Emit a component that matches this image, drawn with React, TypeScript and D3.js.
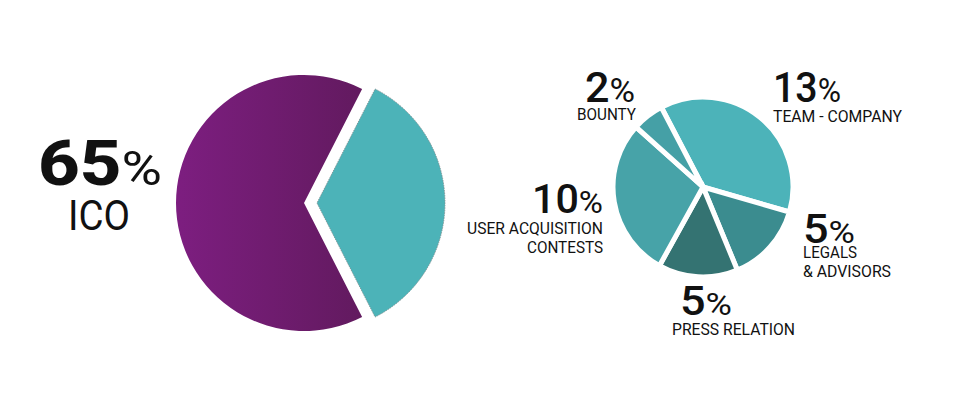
import React from "react";
import * as d3 from "d3";

const mainCategories = ["ICO", "Other"];
const mainValues = [65, 35];
const subCategories = ["TEAM - COMPANY", "LEGALS & ADVISORS", "PRESS RELATION", "USER ACQUISITION CONTESTS", "BOUNTY"];
const subValues = [13, 5, 5, 10, 2];
const subColors = ["#4cb3b9", "#3b8c8f", "#347372", "#47a3a8", "#45a0a6"];

type Lbl = {
  num: string; nx: number; w: number; by: number; ns: number; ps: number; nwt: number;
  lines: { t: string; x: number; y: number; w: number; s: number }[];
};

const labels: Lbl[] = [
  { num: "65", nx: 38, w: 124, by: 185, ns: 63, ps: 48, nwt: 800,
    lines: [{ t: "ICO", x: 68, y: 230, w: 62, s: 42 }] },
  { num: "13", nx: 773, w: 68, by: 102, ns: 42, ps: 34, nwt: 500,
    lines: [{ t: "TEAM - COMPANY", x: 773, y: 122, w: 129, s: 16 }] },
  { num: "2", nx: 585, w: 50, by: 102, ns: 42, ps: 34, nwt: 500,
    lines: [{ t: "BOUNTY", x: 577, y: 120, w: 59, s: 16 }] },
  { num: "10", nx: 532, w: 71, by: 213, ns: 40, ps: 32, nwt: 500,
    lines: [
      { t: "USER ACQUISITION", x: 467, y: 234, w: 136, s: 16 },
      { t: "CONTESTS", x: 527, y: 253, w: 76, s: 16 },
    ] },
  { num: "5", nx: 803, w: 52, by: 243, ns: 40, ps: 32, nwt: 500,
    lines: [
      { t: "LEGALS", x: 803, y: 258, w: 54, s: 16 },
      { t: "& ADVISORS", x: 803, y: 277, w: 88, s: 16 },
    ] },
  { num: "5", nx: 680, w: 52, by: 315, ns: 40, ps: 32, nwt: 500,
    lines: [{ t: "PRESS RELATION", x: 672, y: 335, w: 123, s: 16 }] },
];

export default function App() {
  const deg = Math.PI / 180;
  const mainPie = d3.pie<number>().sort(null).startAngle(153 * deg).endAngle(153 * deg + 2 * Math.PI)(mainValues);
  const mainArc = d3.arc<d3.PieArcDatum<number>>().innerRadius(0).outerRadius(128);
  const subPie = d3.pie<number>().sort(null).startAngle(-27.6 * deg).endAngle(-27.6 * deg + 2 * Math.PI)(subValues);
  const subArc = d3.arc<d3.PieArcDatum<number>>().innerRadius(0).outerRadius(90);
  const cx = 304, cy = 203;
  const scx = 703, scy = 187;
  const font = "Roboto, 'DejaVu Sans', sans-serif";
  return (
    <svg width={957} height={394} style={{ position: "absolute", left: 0, top: 0 }}>
      <defs>
        <linearGradient id="purp" x1="0" x2="1" y1="0" y2="0">
          <stop offset="0" stopColor="#7d1e80" />
          <stop offset="1" stopColor="#621a5f" />
        </linearGradient>
      </defs>
      <rect width={957} height={394} fill="#fff" />
      <g transform={`translate(${cx},${cy})`}>
        {mainPie.map((d, i) => {
          const mid = (d.startAngle + d.endAngle) / 2;
          const off = i === 0 ? 0 : 13;
          const dx = Math.sin(mid) * off, dy = -Math.cos(mid) * off;
          return (
            <path key={mainCategories[i]} d={mainArc(d) || ""} transform={`translate(${dx},${dy})`}
              fill={i === 0 ? "url(#purp)" : "#4cb3b8"}
              stroke={i === 0 ? "none" : "#7a8a8c"} strokeWidth={0.8} strokeDasharray={i === 0 ? undefined : "1.5,1"} />
          );
        })}
      </g>
      <g transform={`translate(${scx},${scy})`}>
        {subPie.map((d, i) => (
          <path key={subCategories[i]} d={subArc(d) || ""} fill={subColors[i]} stroke="#fff" strokeWidth={5} strokeLinejoin="miter" />
        ))}
      </g>
      {labels.map((l, i) => (
        <g key={i} fontFamily={font} fill="#111">
          <text x={l.nx} y={l.by} textLength={l.w} lengthAdjust="spacingAndGlyphs">
            <tspan fontSize={l.ns} fontWeight={l.nwt}>{l.num}</tspan>
            <tspan fontSize={l.ps} fontWeight={400}>%</tspan>
          </text>
          {l.lines.map((ln) => (
            <text key={ln.t} x={ln.x} y={ln.y} fontSize={ln.s} fontWeight={400} textLength={ln.w} lengthAdjust="spacingAndGlyphs">{ln.t}</text>
          ))}
        </g>
      ))}
    </svg>
  );
}
